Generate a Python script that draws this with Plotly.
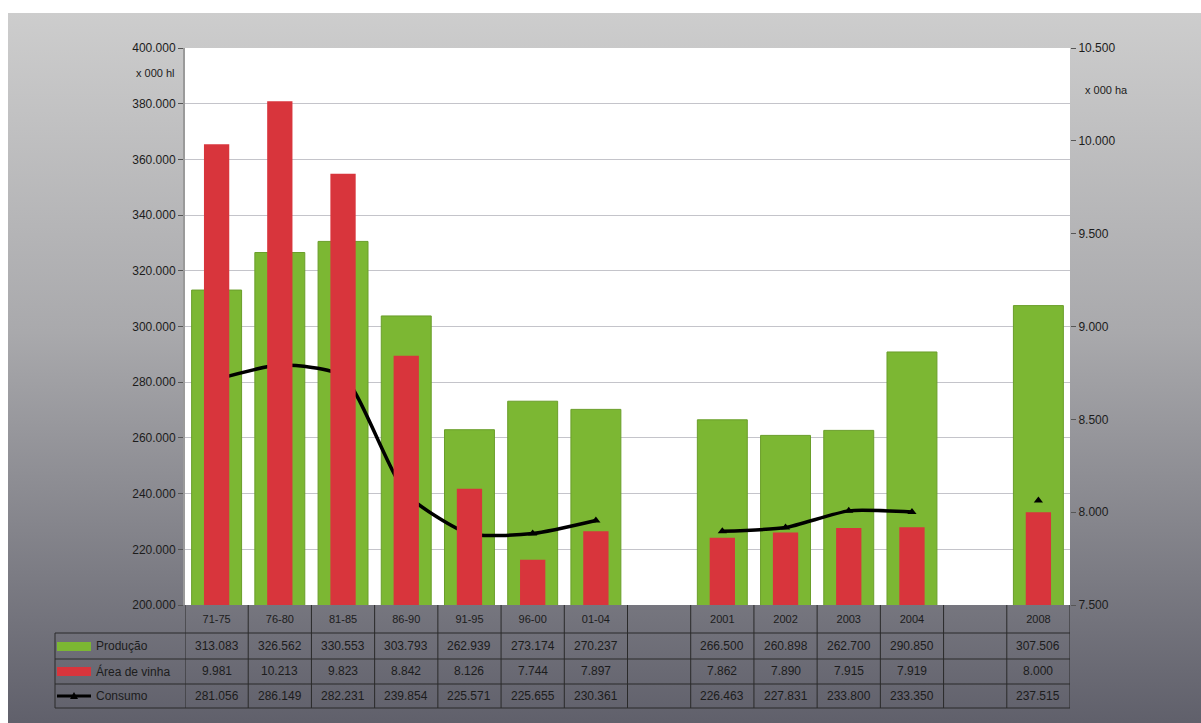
import base64
import plotly.graph_objects as go

# ---------------- data ----------------
categories = ["71-75", "76-80", "81-85", "86-90", "91-95", "96-00", "01-04", " ",
              "2001", "2002", "2003", "2004", "  ", "2008"]
producao = [313083, 326562, 330553, 303793, 262939, 273174, 270237, None,
            266500, 260898, 262700, 290850, None, 307506]
area_vinha = [9981, 10213, 9823, 8842, 8126, 7744, 7897, None,
              7862, 7890, 7915, 7919, None, 8000]
consumo = [281056, 286149, 282231, 239854, 225571, 225655, 230361, None,
           226463, 227831, 233800, 233350, None, 237515]
series_names = ["Produção", "Área de vinha", "Consumo"]
left_unit = "x 000 hl"
right_unit = "x 000 ha"

# ---------------- layout geometry (pixels) ----------------
W, H = 1201, 723
PL, PR, PT, PB = 185, 1070, 48, 605
PW, PH = PR - PL, PB - PT

def px(xp):
    return (xp - PL) / PW

def py(yp):
    return (PB - yp) / PH

GREEN = "#7cb733"
RED = "#d8353c"
TXT = "#1c1c1c"
FONT = "Liberation Sans, Arial, sans-serif"

def fmt(v):
    return "" if v is None else f"{v:,.0f}".replace(",", ".")

fig = go.Figure()
fig.add_trace(go.Bar(x=categories, y=producao, name=series_names[0], marker_color=GREEN,
                     marker_line=dict(color="#6a9e2a", width=1), width=0.79, yaxis="y"))
fig.add_trace(go.Bar(x=categories, y=area_vinha, name=series_names[1], marker_color=RED,
                     marker_line=dict(width=0), width=0.4, yaxis="y2"))
fig.add_trace(go.Scatter(x=categories, y=consumo, name=series_names[2], mode="lines+markers",
                         line=dict(color="black", width=3.5, shape="spline", smoothing=0.6),
                         marker=dict(symbol="triangle-up", size=8, color="black"),
                         connectgaps=False, yaxis="y"))

# background gradient
svg = ('<svg xmlns="http://www.w3.org/2000/svg" width="1193" height="710" preserveAspectRatio="none">'
       '<defs><linearGradient id="g" x1="0" y1="0" x2="0" y2="1">'
       '<stop offset="0" stop-color="#cdcdcd"/><stop offset="0.45" stop-color="#a9a9ac"/>'
       '<stop offset="1" stop-color="#60606b"/></linearGradient></defs>'
       '<rect x="0" y="0" width="1193" height="710" fill="url(#g)"/></svg>')
src = "data:image/svg+xml;base64," + base64.b64encode(svg.encode()).decode()

shapes = []
annotations = []
line_col = "#2a2a2a"

# white plot area over the gradient
shapes.append(dict(type="rect", xref="paper", yref="paper", x0=0, x1=1, y0=0, y1=1,
                   fillcolor="white", line=dict(width=0), layer="below"))

# table grid: verticals at category boundaries
n = len(categories)
for i in range(n + 1):
    shapes.append(dict(type="line", xref="x", yref="paper", x0=i - 0.5, x1=i - 0.5,
                       y0=py(605), y1=py(708), line=dict(color=line_col, width=1)))
# horizontal rows
for yy in [633, 659, 684, 708]:
    shapes.append(dict(type="line", xref="paper", yref="paper", x0=px(55), x1=px(PR),
                       y0=py(yy), y1=py(yy), line=dict(color=line_col, width=1)))
shapes.append(dict(type="line", xref="paper", yref="paper", x0=px(55), x1=px(55),
                   y0=py(633), y1=py(708), line=dict(color=line_col, width=1)))

# legend keys
shapes.append(dict(type="rect", xref="paper", yref="paper", x0=px(57), x1=px(91),
                   y0=py(651), y1=py(642), fillcolor=GREEN, line=dict(width=0)))
shapes.append(dict(type="rect", xref="paper", yref="paper", x0=px(57), x1=px(91),
                   y0=py(676), y1=py(667), fillcolor=RED, line=dict(width=0)))
shapes.append(dict(type="line", xref="paper", yref="paper", x0=px(57), x1=px(91),
                   y0=py(696), y1=py(696), line=dict(color="black", width=3)))
shapes.append(dict(type="path", xref="paper", yref="paper",
                   path=f"M {px(70)} {py(699)} L {px(78)} {py(699)} L {px(74)} {py(692)} Z",
                   fillcolor="black", line=dict(width=0)))

row_y = [646, 671, 696]
rows = [producao, area_vinha, consumo]
for name, yy in zip(series_names, row_y):
    annotations.append(dict(xref="paper", yref="paper", x=px(94), y=py(yy), text=name,
                            showarrow=False, xanchor="left", yanchor="middle",
                            font=dict(size=12, color=TXT, family=FONT)))
for vals, yy in zip(rows, row_y):
    for i, v in enumerate(vals):
        if v is None:
            continue
        annotations.append(dict(xref="x", yref="paper", x=i, y=py(yy), text=fmt(v),
                                showarrow=False, xanchor="center", yanchor="middle",
                                font=dict(size=12, color=TXT, family=FONT)))

annotations.append(dict(xref="paper", yref="paper", x=px(177), y=py(73), text=left_unit,
                        showarrow=False, xanchor="right", yanchor="middle",
                        font=dict(size=11, color=TXT, family=FONT)))
annotations.append(dict(xref="paper", yref="paper", x=px(1083), y=py(90), text=right_unit,
                        showarrow=False, xanchor="left", yanchor="middle",
                        font=dict(size=11, color=TXT, family=FONT)))

fig.update_layout(
    width=W, height=H,
    margin=dict(l=PL, r=W - PR, t=PT, b=H - PB, pad=0),
    paper_bgcolor="white", plot_bgcolor="rgba(0,0,0,0)",
    barmode="overlay", showlegend=False,
    separators=",.",
    font=dict(family=FONT, size=12, color=TXT),
    xaxis=dict(type="category", categoryorder="array", categoryarray=categories,
               range=[-0.5, n - 0.5], showgrid=False, ticks="", showline=False,
               ticklabelstandoff=6,
               tickfont=dict(size=11, color=TXT), zeroline=False),
    yaxis=dict(range=[200000, 400000], dtick=20000, tickformat=",d", showgrid=True,
               gridcolor="#c4c4ca", gridwidth=1, ticks="outside", ticklen=5,
               tickcolor="#555", showline=True, linecolor="#9a9a9a", linewidth=2,
               tickfont=dict(size=12, color=TXT), zeroline=False),
    yaxis2=dict(range=[7500, 10500], dtick=500, tickformat=",d", overlaying="y", side="right",
                showgrid=False, ticks="outside", ticklen=5, tickcolor="#555",
                showline=False, tickfont=dict(size=12, color=TXT), zeroline=False),
    images=[dict(source=src, xref="paper", yref="paper", x=px(8), y=py(13),
                 sizex=1193 / PW, sizey=710 / PH, sizing="stretch",
                 xanchor="left", yanchor="top", layer="below")],
    shapes=shapes, annotations=annotations,
)

fig.write_html("out.html")
